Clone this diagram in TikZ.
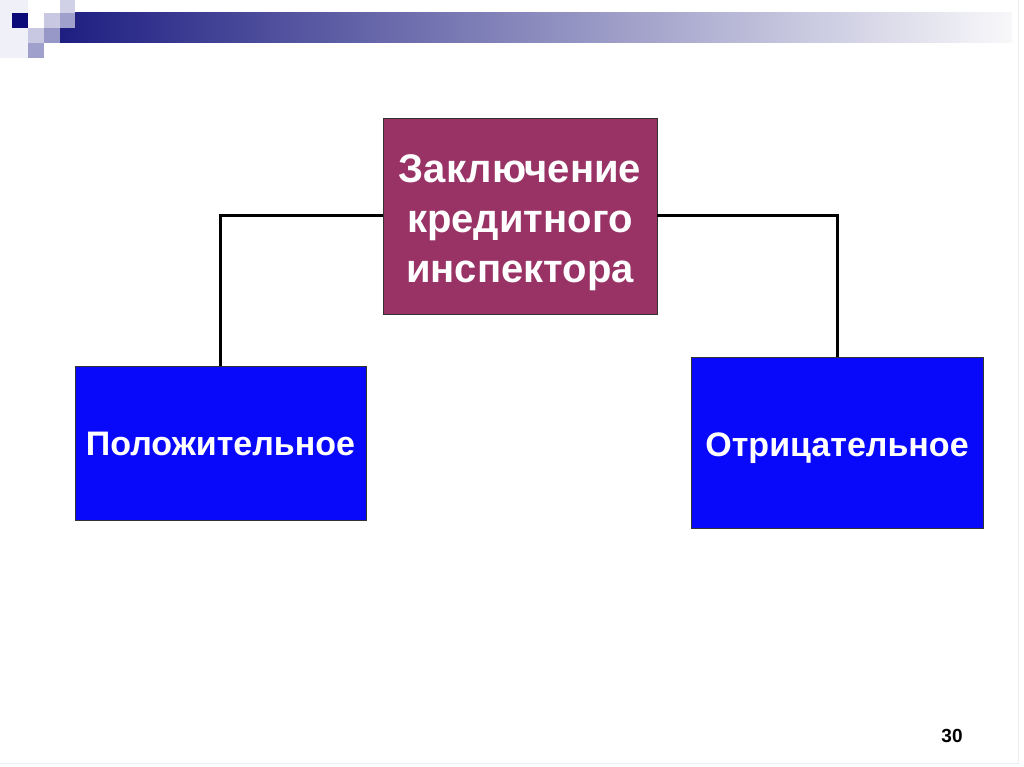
\documentclass[tikz,border=0pt]{standalone}
\usepackage{fontspec}
\setmainfont{Liberation Sans}
\definecolor{cfaint}{RGB}{240,240,248}
\definecolor{cbarL}{RGB}{30,30,130}
\definecolor{cbarM}{RGB}{165,165,188}
\definecolor{cbarR}{RGB}{248,248,250}
\definecolor{cdark}{RGB}{10,10,120}
\definecolor{clight}{RGB}{200,200,226}
\definecolor{clight2}{RGB}{208,208,230}
\definecolor{cmed}{RGB}{160,160,204}
\definecolor{cmed2}{RGB}{152,152,200}
\definecolor{cmaroon}{RGB}{153,51,102}
\definecolor{cblue}{RGB}{8,8,250}
\definecolor{cedge}{RGB}{238,238,238}
\begin{document}
\begin{tikzpicture}[x=1pt,y=-1pt,
  conn/.style={draw=black,line width=3pt},
  boxtext/.style={text=white,align=center,inner sep=0pt},
  topbox/.style={draw=black!80,line width=0.8pt,fill=cmaroon,inner sep=0pt},
  sidebox/.style={draw=black!80,line width=0.8pt,fill=cblue,inner sep=0pt}]
\useasboundingbox (0,0) rectangle (1024,767);
\fill[white] (0,0) rectangle (1024,767);
\draw[cedge,line width=1pt] (1018,0) -- (1018,763) -- (0,763);
% header decoration
\fill[cfaint] (0,0) rectangle (28,58);
\shade[left color=cbarL,middle color=cbarM,right color=cbarR] (60,13) rectangle (1012,43);
\fill[cdark] (12,13) rectangle (28,28);
\fill[clight] (44,13) rectangle (60,28);
\fill[clight2] (60,-1) rectangle (75,13);
\fill[cmed] (60,13) rectangle (75,28);
\fill[clight] (28,28) rectangle (44,43);
\fill[cmed2] (44,28) rectangle (60,43);
\fill[cmed] (28,43) rectangle (44,58);
% nodes
\node[topbox,minimum width=274pt,minimum height=196pt,
  label={[boxtext,font=\fontsize{40}{50}\selectfont\bfseries,yshift=-7pt]center:Заключение\\кредитного\\инспектора}] (top) at (520,216) {};
\node[sidebox,minimum width=291pt,minimum height=154pt,
  label={[boxtext,font=\fontsize{34}{40}\selectfont\bfseries,yshift=-1pt]center:Положительное}] (pos) at (220.5,443) {};
\node[sidebox,minimum width=292pt,minimum height=171pt,
  label={[boxtext,font=\fontsize{34}{40}\selectfont\bfseries,yshift=-6pt]center:Отрицательное}] (neg) at (837,442.5) {};
\node[font=\fontsize{19}{22}\selectfont\bfseries] (num) at (952,736) {30};
% connectors
\draw[conn] (top.west) -| (pos.north);
\draw[conn] (top.east) -| (neg.north);
\end{tikzpicture}
\end{document}
